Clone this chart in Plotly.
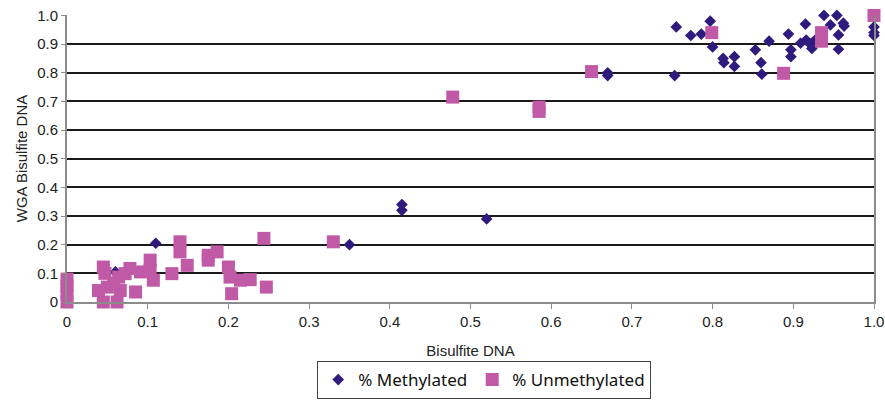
import plotly.graph_objects as go

# Data
meth_x = [0.11, 0.415, 0.415, 0.35, 0.52, 0.67, 0.67, 0.753, 0.755, 0.773, 0.786, 0.797,
          0.80, 0.814, 0.827, 0.827, 0.813, 0.853, 0.860, 0.861, 0.870, 0.894, 0.897,
          0.897, 0.909, 0.915, 0.916, 0.921, 0.923, 0.927, 0.938, 0.946, 0.954, 0.956,
          0.956, 0.962, 0.963, 1.0, 1.0, 1.0, 0.06]
meth_y = [0.205, 0.34, 0.32, 0.20, 0.29, 0.80, 0.79, 0.79, 0.96, 0.93, 0.935, 0.98,
          0.89, 0.835, 0.856, 0.822, 0.85, 0.88, 0.835, 0.795, 0.91, 0.935, 0.88,
          0.856, 0.903, 0.97, 0.914, 0.90, 0.885, 0.914, 1.0, 0.967, 1.0, 0.932,
          0.882, 0.973, 0.963, 0.96, 0.94, 0.93, 0.105]

unmeth_x = [0.0, 0.0, 0.0, 0.0, 0.039, 0.045, 0.047, 0.045, 0.062, 0.05, 0.058, 0.064,
            0.066, 0.072, 0.078, 0.085, 0.091, 0.103, 0.103, 0.107, 0.13, 0.14, 0.14,
            0.149, 0.175, 0.175, 0.186, 0.2, 0.202, 0.204, 0.215, 0.227, 0.244, 0.247,
            0.33, 0.478, 0.585, 0.585, 0.65, 0.799, 0.888, 0.935, 0.935, 1.0]
unmeth_y = [0.0, 0.03, 0.055, 0.08, 0.04, 0.122, 0.10, 0.0, 0.0, 0.052, 0.065, 0.087,
            0.04, 0.099, 0.117, 0.035, 0.105, 0.146, 0.11, 0.076, 0.099, 0.21, 0.175,
            0.128, 0.163, 0.146, 0.175, 0.122, 0.087, 0.029, 0.076, 0.078, 0.222, 0.052,
            0.21, 0.715, 0.68, 0.665, 0.804, 0.94, 0.798, 0.94, 0.91, 1.0]

tick_vals = [0, 0.1, 0.2, 0.3, 0.4, 0.5, 0.6, 0.7, 0.8, 0.9, 1.0]
tick_text = ["0", "0.1", "0.2", "0.3", "0.4", "0.5", "0.6", "0.7", "0.8", "0.9", "1.0"]

fig = go.Figure()
fig.add_trace(go.Scatter(
    x=meth_x, y=meth_y, mode="markers", name="% Methylated",
    marker=dict(symbol="diamond", size=9, color="#2E1B7D", line=dict(width=0)),
    cliponaxis=False,
))
fig.add_trace(go.Scatter(
    x=unmeth_x, y=unmeth_y, mode="markers", name="% Unmethylated",
    marker=dict(symbol="square", size=13, color="#C05AA6", line=dict(width=0)),
    cliponaxis=False,
))

axis_font = dict(family="Liberation Sans, Arial, sans-serif", size=15, color="#222222")

fig.update_layout(
    width=885, height=400,
    margin=dict(l=67, r=11, t=15, b=98, autoexpand=False),
    paper_bgcolor="white", plot_bgcolor="white",
    font=axis_font,
    showlegend=True,
    legend=dict(
        orientation="h", x=0.517, xanchor="center", y=-0.338, yanchor="bottom",
        bordercolor="#444444", borderwidth=1,
        font=dict(family="Noto Sans, Open Sans, sans-serif", size=17, color="#111111"),
        itemwidth=30, tracegroupgap=0,
    ),
    xaxis=dict(
        range=[0, 1], tickvals=tick_vals, ticktext=tick_text,
        showgrid=False, zeroline=False, automargin=False,
        showline=True, linecolor="#8c8c8c", linewidth=2,
        ticks="outside", ticklen=5, tickcolor="#8c8c8c", tickwidth=1,
        tickfont=axis_font,
        title=dict(text="Bisulfite DNA", font=axis_font, standoff=16),
    ),
    yaxis=dict(
        range=[0, 1.0015], tickvals=tick_vals, ticktext=tick_text,
        showgrid=True, gridcolor="#1a1a1a", gridwidth=2,
        zeroline=False, automargin=False,
        showline=True, linecolor="#8c8c8c", linewidth=2, mirror=True,
        ticks="outside", ticklen=4, tickcolor="#8c8c8c", tickwidth=1,
        tickfont=axis_font,
        title=dict(text="WGA Bisulfite DNA", font=axis_font, standoff=6),
    ),
)

fig.write_html("out.html", config={"displayModeBar": False},
               post_script="document.body.style.margin='0';")
